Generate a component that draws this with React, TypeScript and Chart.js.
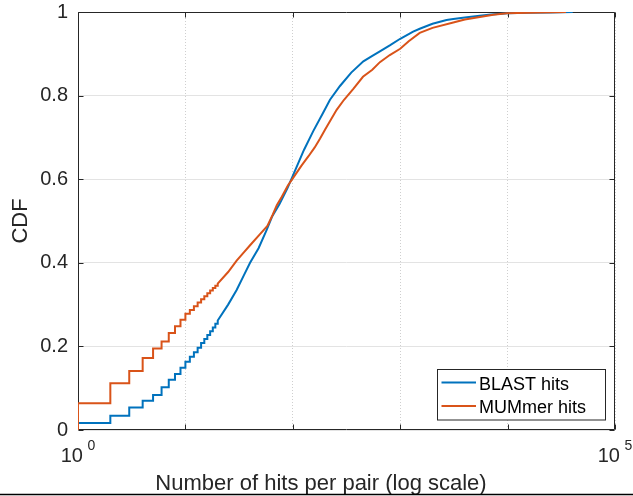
import React, { useEffect, useRef } from "react";
import { Chart, registerables } from "chart.js";

Chart.register(...registerables);

// ---- Data ----
const stepHits = [1, 2, 3, 4, 5, 6, 7, 8, 9, 10, 11, 12, 13, 14, 15, 16, 17, 18, 19, 20];
const blastStepCdf = [0.017, 0.034, 0.054, 0.07, 0.084, 0.102, 0.12, 0.134, 0.149, 0.163, 0.175, 0.186, 0.197, 0.208, 0.218, 0.227, 0.236, 0.245, 0.254, 0.262];
const mummerStepCdf = [0.064, 0.112, 0.141, 0.172, 0.195, 0.212, 0.232, 0.248, 0.264, 0.278, 0.287, 0.296, 0.305, 0.313, 0.32, 0.327, 0.334, 0.34, 0.345, 0.35];

const blastTailHits = [25, 30, 35, 40, 48, 57, 64, 75, 89, 100, 127, 155, 190, 222, 275, 350, 454, 550, 647, 800, 1000, 1320, 1520, 2000, 2700, 3120, 4000, 5500, 7000, 10000, 15000, 25000, 40400];
const blastTailCdf = [0.3, 0.335, 0.37, 0.4, 0.435, 0.478, 0.51, 0.54, 0.578, 0.608, 0.67, 0.715, 0.757, 0.79, 0.823, 0.855, 0.882, 0.895, 0.906, 0.92, 0.936, 0.953, 0.96, 0.972, 0.981, 0.983, 0.987, 0.991, 0.994, 0.997, 0.998, 0.999, 1.0];

const mummerTailHits = [25, 30, 35, 40, 50, 58, 65, 71, 79, 90, 100, 120, 140, 160, 179, 200, 256, 300, 366, 450, 550, 647, 800, 1000, 1200, 1520, 2000, 3120, 4000, 7360, 9800, 20000, 35000];
const mummerTailCdf = [0.378, 0.405, 0.425, 0.442, 0.47, 0.488, 0.515, 0.538, 0.558, 0.585, 0.602, 0.632, 0.655, 0.676, 0.697, 0.719, 0.766, 0.79, 0.816, 0.845, 0.862, 0.88, 0.897, 0.912, 0.93, 0.95, 0.962, 0.975, 0.982, 0.9935, 0.997, 0.999, 1.0];

const seriesLabels = ["BLAST hits", "MUMmer hits"];
const seriesColors = ["#0072BD", "#D95319"];
const xTickValues = [1, 10, 100, 1000, 10000, 100000];
const xLabelExponents = [0, 5];
const yTickStep = 0.2;
const xTitle = "Number of hits per pair (log scale)";
const yTitle = "CDF";

const FONT = '"Liberation Sans", Arial, Helvetica, sans-serif';
const AXIS_COLOR = "#262626";

function buildCdf(hx: number[], hy: number[], tx: number[], ty: number[]) {
  const pts: { x: number; y: number }[] = [{ x: hx[0], y: 0 }];
  hx.forEach((x, i) => {
    if (i > 0) pts.push({ x, y: hy[i - 1] });
    pts.push({ x, y: hy[i] });
  });
  tx.forEach((x, i) => pts.push({ x, y: ty[i] }));
  return pts;
}

const matlabPlugin = {
  id: "matlabAxes",
  beforeDatasetsDraw(chart: any) {
    const { ctx, chartArea: a, scales } = chart;
    ctx.save();
    ctx.strokeStyle = AXIS_COLOR;
    ctx.lineWidth = 1;
    ctx.beginPath();
    const L = Math.round(a.left) + 0.5, R = Math.round(a.right) - 0.5;
    const T = Math.round(a.top) + 0.5, B = Math.round(a.bottom) - 0.5;
    ctx.rect(L, T, R - L, B - T);
    scales.y.ticks.forEach((t: any) => {
      const y = Math.round(scales.y.getPixelForValue(t.value)) + 0.5;
      ctx.moveTo(L, y); ctx.lineTo(L + 5, y);
      ctx.moveTo(R, y); ctx.lineTo(R - 5, y);
    });
    xTickValues.forEach((v) => {
      const x = Math.round(scales.x.getPixelForValue(v)) + 0.5;
      ctx.moveTo(x, B); ctx.lineTo(x, B - 5);
      ctx.moveTo(x, T); ctx.lineTo(x, T + 5);
    });
    ctx.stroke();
    ctx.restore();
  },
  afterDraw(chart: any) {
    const { ctx, scales } = chart;
    ctx.save();
    ctx.fillStyle = AXIS_COLOR;
    ctx.textBaseline = "alphabetic";
    ctx.textAlign = "left";
    xLabelExponents.forEach((e) => {
      const cx = scales.x.getPixelForValue(Math.pow(10, e));
      ctx.font = `20px ${FONT}`;
      const w10 = ctx.measureText("10").width;
      ctx.font = `14px ${FONT}`;
      const sup = String(e);
      const ws = ctx.measureText(sup).width;
      const gap = 4.5;
      const start = cx - (w10 + gap + ws) / 2;
      ctx.font = `20px ${FONT}`;
      ctx.fillText("10", start, 462);
      ctx.font = `14px ${FONT}`;
      ctx.fillText(sup, start + w10 + gap, 450);
    });
    ctx.font = `22px ${FONT}`;
    ctx.textAlign = "center";
    ctx.fillText(xTitle, 321, 490);

    const lx = 437.5, ly = 369.5, lw = 168, lh = 50.5;
    ctx.fillStyle = "#ffffff";
    ctx.fillRect(lx, ly, lw, lh);
    ctx.strokeStyle = AXIS_COLOR;
    ctx.lineWidth = 1;
    ctx.strokeRect(lx, ly, lw, lh);
    ctx.textAlign = "left";
    ctx.font = `18px ${FONT}`;
    chart.data.datasets.forEach((ds: any, i: number) => {
      const yy = 382.5 + i * 23.4;
      ctx.strokeStyle = ds.borderColor;
      ctx.lineWidth = 2;
      ctx.beginPath();
      ctx.moveTo(441.5, yy);
      ctx.lineTo(476, yy);
      ctx.stroke();
      ctx.fillStyle = "#000000";
      ctx.fillText(ds.label, 479, 390 + i * 23.4);
    });

    ctx.strokeStyle = "#000000";
    ctx.lineWidth = 1.5;
    ctx.beginPath();
    ctx.moveTo(0, 494.5);
    ctx.lineTo(chart.width, 494.5);
    ctx.stroke();
    ctx.restore();
  },
};

export default function App() {
  const ref = useRef<HTMLCanvasElement | null>(null);
  useEffect(() => {
    if (!ref.current) return;
    const blastPts = buildCdf(stepHits, blastStepCdf, blastTailHits, blastTailCdf);
    const mummerPts = buildCdf(stepHits, mummerStepCdf, mummerTailHits, mummerTailCdf);
    const chart = new Chart(ref.current, {
      type: "line",
      data: {
        datasets: [
          { label: seriesLabels[0], data: blastPts, borderColor: seriesColors[0], backgroundColor: seriesColors[0], borderWidth: 2, pointRadius: 0, tension: 0, order: 1, fill: false },
          { label: seriesLabels[1], data: mummerPts, borderColor: seriesColors[1], backgroundColor: seriesColors[1], borderWidth: 2, pointRadius: 0, tension: 0, order: 0, fill: false },
        ],
      } as any,
      options: {
        animation: false,
        responsive: false,
        devicePixelRatio: 1,
        layout: { padding: { top: 12, right: 18, left: 0, bottom: 0 } },
        plugins: { legend: { display: false }, tooltip: { enabled: false } },
        scales: {
          x: {
            type: "logarithmic",
            min: 1,
            max: 100000,
            afterBuildTicks: (s: any) => {
              s.ticks = xTickValues.map((v) => ({ value: v }));
            },
            afterFit: (s: any) => {
              s.height = 66;
              s.paddingLeft = 0;
              s.paddingRight = 0;
            },
            ticks: { display: false },
            grid: { color: "#cfcfcf", lineWidth: 1, drawTicks: false },
            border: { display: false, dash: [1, 2] },
          },
          y: {
            type: "linear",
            min: 0,
            max: 1,
            afterFit: (s: any) => {
              s.width = 78;
              s.paddingTop = 0;
              s.paddingBottom = 0;
            },
            ticks: {
              stepSize: yTickStep,
              color: AXIS_COLOR,
              font: { family: FONT, size: 20 },
              padding: 10,
              callback: (v: any) => String(Number(Number(v).toFixed(2))),
            },
            grid: { color: "#e3e3e3", lineWidth: 1, drawTicks: false },
            border: { display: false },
            title: { display: true, text: yTitle, color: AXIS_COLOR, font: { family: FONT, size: 22 }, padding: { top: 8, bottom: 0 } },
          },
        },
      } as any,
      plugins: [matlabPlugin],
    });
    return () => chart.destroy();
  }, []);
  return (
    <div style={{ position: "absolute", left: 0, top: 0, width: 633, height: 496, background: "#fff" }}>
      <canvas ref={ref} width={633} height={496} style={{ display: "block", width: 633, height: 496 }} />
    </div>
  );
}
